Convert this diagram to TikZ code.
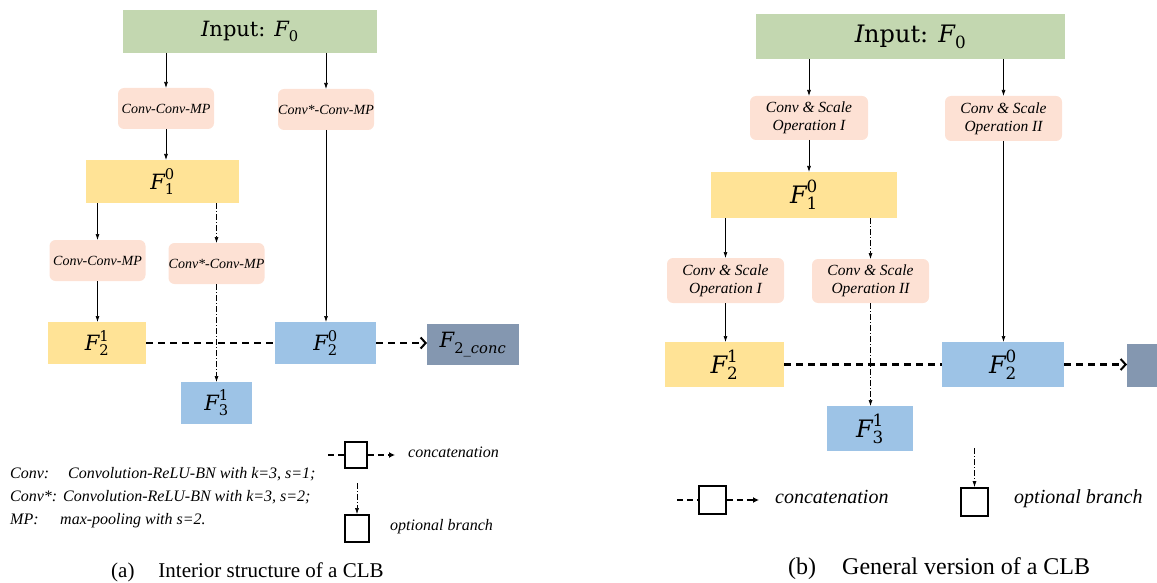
\RequirePackage{fix-cm}
\documentclass[tikz,border=0pt]{standalone}
\usepackage{amsmath}
\usepackage{fontspec}
\setmainfont{Liberation Serif}[ItalicFont={Liberation Serif Italic},BoldFont={Liberation Serif Bold}]
\newfontfamily\mf{DejaVu Serif}
\newcommand\FF[2]{\ensuremath{\text{\mf\itshape F}_{\text{\mf #1}}^{\text{\mf #2}}}}
\usetikzlibrary{arrows.meta}
\definecolor{cgreen}{RGB}{195,215,176}
\definecolor{cpeach}{RGB}{253,225,212}
\definecolor{cyellow}{RGB}{255,227,150}
\definecolor{cblue}{RGB}{157,195,230}
\definecolor{cslate}{RGB}{132,151,176}
\begin{document}
\begin{tikzpicture}[x=1pt,y=-1pt,
  sz/.style 2 args={minimum width=#1pt, minimum height=#2pt},
  box/.style={draw=none, inner sep=0pt, outer sep=0pt},
  inbox/.style={box, fill=cgreen},
  opbox/.style={box, fill=cpeach, rounded corners=6pt, align=center, font=\itshape},
  ybox/.style={box, fill=cyellow},
  bbox/.style={box, fill=cblue},
  sbox/.style={box, fill=cslate},
  legbox/.style={draw=black, line width=1.8pt, fill=white, inner sep=0pt},
  arr/.style={-{Latex[length=6pt,width=4pt]}, line width=0.7pt},
  optarr/.style={-{Latex[length=6pt,width=4pt]}, line width=0.6pt, dash pattern=on 6pt off 2pt on 1pt off 2pt},
  cat/.style={line width=2.2pt, dash pattern=on 7pt off 5pt},
  catarr/.style={cat, -{Straight Barb[length=5pt,width=11pt,line width=2pt]}},
  legcat/.style={line width=1.8pt, dash pattern=on 6pt off 4pt},
  legcatarr/.style={legcat, -{Latex[length=6pt,width=6pt]}},
  txt/.style={inner sep=0pt, anchor=base west},
  opa/.style={font=\itshape\fontsize{14}{15}\selectfont},
  opb/.style={font=\itshape\fontsize{15.5}{18}\selectfont}
]
\useasboundingbox (0,0) rectangle (1157,583);

% ---------------- (a) ----------------
\begin{scope}[font=\fontsize{21}{25}\selectfont]
\node[inbox, sz={254}{43}] (in) at (250,31.5) {\text{\mf\itshape I}\mf nput: \FF{0}{}};
\node[opbox, opa, sz={96}{41}] (c1) at (166,108.5) {Conv-Conv-MP};
\node[opbox, opa, sz={96}{41}] (c2) at (326,109.5) {Conv*-Conv-MP};
\node[ybox, sz={153}{43}] (F10) at (162.5,181.5) {\FF{1}{0}};
\node[opbox, opa, sz={96}{41}] (c3) at (97.5,260.5) {Conv-Conv-MP};
\node[opbox, opa, sz={96}{41}] (c4) at (216.5,263.5) {Conv*-Conv-MP};
\node[ybox, sz={98}{42}] (F21) at (97,343) {\FF{2}{1}};
\node[bbox, sz={71}{42}] (F31) at (216.5,403) {\FF{3}{1}};
\node[bbox, sz={101}{42}] (F20) at (325.5,343) {\FF{2}{0}};
\node[sbox, sz={92}{41}] (Fc) at (473,344.5) {\FF{2\_\itshape conc}{}};
\end{scope}

\draw[arr] (in.south -| c1.north) -- (c1.north);
\draw[arr] (in.south -| c2.north) -- (c2.north);
\draw[arr] (c1.south) -- (c1.south |- F10.north);
\draw[arr] (F10.south -| c3.north) -- (c3.north);
\draw[optarr] (F10.south -| c4.north) -- (c4.north);
\draw[arr] (c2.south) -- (c2.south |- F20.north);
\draw[arr] (c3.south) -- (c3.south |- F21.north);
\draw[optarr] (c4.south) -- (c4.south |- F31.north);
\draw[cat] (F21.east) -- (F20.west);
\draw[catarr] (F20.east) -- (F20.east -| Fc.west);

% legend (a)
\begin{scope}[font=\itshape\fontsize{16}{19}\selectfont]
\node[txt] (l1) at (10,478) {\makebox[58pt][l]{Conv:}Convolution-ReLU-BN with k=3, s=1;};
\node[txt] (l2) at (10,501) {\makebox[53pt][l]{Conv*:}Convolution-ReLU-BN with k=3, s=2;};
\node[txt] (l3) at (10,524) {\makebox[50pt][l]{MP:}max-pooling with s=2.};
\node[legbox, sz={22}{26}] (lb1) at (356,455) {};
\coordinate (lc1) at (328,455);
\coordinate (lc2) at (395,455);
\node[txt] (lt1) at (408,457) {concatenation};
\node[legbox, sz={24}{27}] (lb2) at (357,528.5) {};
\coordinate (lo1) at (357,483);
\node[txt] (lt2) at (390,530) {optional branch};
\end{scope}
\draw[legcat] (lc1) -- (lb1.west);
\draw[legcatarr] (lb1.east) -- (lc2);
\draw[optarr] (lo1) -- (lb2.north);

\node[txt, font=\fontsize{21}{25}\selectfont] (capa) at (111,577) {(a)\hspace{24pt}Interior structure of a CLB};

% ---------------- (b) ----------------
\begin{scope}[font=\fontsize{24}{28}\selectfont]
\node[inbox, sz={309}{45}] (in2) at (910.5,36.5) {\text{\mf\itshape I}\mf nput: \FF{0}{}};
\node[opbox, opb, sz={118}{44}] (d1) at (809,118) {Conv \& Scale\\Operation I};
\node[opbox, opb, sz={117}{45}] (d2) at (1003.5,118.5) {Conv \& Scale\\Operation II};
\node[ybox, sz={186}{46}] (G10) at (804,195) {\FF{1}{0}};
\node[opbox, opb, sz={117}{45}] (d3) at (725.5,280.5) {Conv \& Scale\\Operation I};
\node[opbox, opb, sz={117}{44}] (d4) at (870.5,281) {Conv \& Scale\\Operation II};
\node[ybox, sz={119}{45}] (G21) at (724.5,364.5) {\FF{2}{1}};
\node[bbox, sz={86}{45}] (G31) at (870,428.5) {\FF{3}{1}};
\node[bbox, sz={122}{45}] (G20) at (1003,364.5) {\FF{2}{0}};
\node[sbox, sz={30}{43}] (Gc) at (1142,365.5) {};
\end{scope}

\draw[arr] (in2.south -| d1.north) -- (d1.north);
\draw[arr] (in2.south -| d2.north) -- (d2.north);
\draw[arr] (d1.south) -- (d1.south |- G10.north);
\draw[arr] (G10.south -| d3.north) -- (d3.north);
\draw[optarr] (G10.south -| d4.north) -- (d4.north);
\draw[arr] (d2.south) -- (d2.south |- G20.north);
\draw[arr] (d3.south) -- (d3.south |- G21.north);
\draw[optarr] (d4.south) -- (d4.south |- G31.north);
\draw[cat] (G21.east) -- (G20.west);
\draw[catarr] (G20.east) -- (G20.east -| Gc.west);

% legend (b)
\begin{scope}[font=\itshape\fontsize{20}{24}\selectfont]
\node[legbox, sz={27}{28}] (mb1) at (712.5,500) {};
\coordinate (mc1) at (677,500);
\coordinate (mc2) at (759,500);
\node[txt] (mt1) at (775,503) {concatenation};
\node[legbox, sz={27}{28}] (mb2) at (974.5,502) {};
\coordinate (mo1) at (974.5,448);
\node[txt] (mt2) at (1014,503) {optional branch};
\end{scope}
\draw[legcat] (mc1) -- (mb1.west);
\draw[legcatarr] (mb1.east) -- (mc2);
\draw[optarr] (mo1) -- (mb2.north);

\node[txt, font=\fontsize{24}{28}\selectfont] (capb) at (788,574) {(b)\hspace{26pt}General version of a CLB};
\end{tikzpicture}
\end{document}
